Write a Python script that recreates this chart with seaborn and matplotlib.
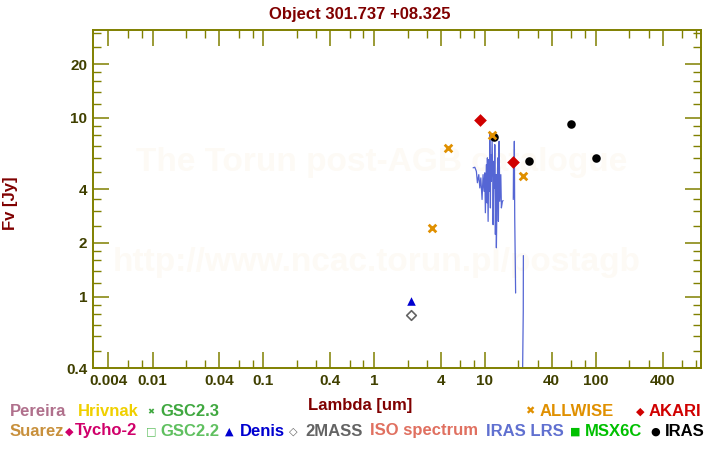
import numpy as np
import pandas as pd
import matplotlib
matplotlib.use("Agg")
import matplotlib.pyplot as plt
import seaborn as sns

# ---------------- data ----------------
title = "Object 301.737 +08.325"

xtick_major = [0.004, 0.01, 0.04, 0.1, 0.4, 1, 4, 10, 40, 100, 400]
xtick_labels = ["0.004", "0.01", "0.04", "0.1", "0.4", "1", "4", "10", "40", "100", "400"]
xtick_minor = [0.006, 0.008, 0.02, 0.03, 0.06, 0.08, 0.2, 0.3, 0.6, 0.8,
               2, 3, 6, 8, 20, 30, 60, 80, 200, 300, 600, 800]
ytick_major = [0.4, 1, 2, 4, 10, 20]
ytick_labels = ["0.4", "1", "2", "4", "10", "20"]
ytick_minor = [0.5, 0.6, 0.7, 0.8, 0.9, 1.2, 1.4, 1.6, 1.8, 2.5, 3, 3.5,
               5, 6, 7, 8, 9, 12, 14, 16, 18, 25, 30]

denis_wave = [2.15]
denis_flux = [0.95]
twomass_wave = [2.16]
twomass_flux = [0.79]
allwise_wave = [3.35, 4.6, 11.6, 22.1]
allwise_flux = [2.43, 6.8, 8.04, 4.74]
akari_wave = [9.0, 18.0]
akari_flux = [9.74, 5.70]
iras_wave = [12, 25, 60, 100]
iras_flux = [7.83, 5.75, 9.26, 5.98]

lrs1_wave = [7.81, 8.09, 8.36, 8.54, 8.79, 8.98, 9.17, 9.41, 9.61, 9.81,
             9.96, 10.08, 10.29, 10.44, 10.51, 10.67, 10.82, 10.96, 11.05, 11.19,
             11.28, 11.43, 11.59, 11.76, 11.84, 12.01, 12.16, 12.26, 12.41, 12.59,
             12.67, 12.86, 13.05, 13.21, 13.41, 13.60, 13.89, 14.06, 14.36, 14.57]
lrs1_flux = [5.26, 5.30, 5.03, 4.34, 4.82, 4.06, 4.62, 3.50, 4.82, 3.89,
             4.93, 2.95, 5.48, 3.35, 5.98, 2.64, 5.85, 3.89, 8.25, 3.14,
             6.24, 4.42, 7.56, 4.62, 2.53, 5.72, 4.06, 7.09, 2.23, 4.82,
             1.88, 3.89, 5.98, 2.64, 7.40, 3.42, 4.82, 3.14, 3.42, 3.45]
lrs2_wave = [18.0, 18.1, 18.25, 18.4, 18.55, 18.9]
lrs2_flux = [3.5, 5.7, 3.6, 7.4, 2.76, 1.05]
lrs3_wave = [21.75, 22.15, 22.2]
lrs3_flux = [0.3, 0.83, 1.70]

legend_row1 = [("Pereira", "#b0708c"), ("Hrivnak", "#f0d000"), ("GSC2.3", "#40a840"),
               ("ALLWISE", "#e09000"), ("AKARI", "#d00000")]
legend_row2 = [("Suarez", "#c8903c"), ("Tycho-2", "#d0006a"), ("GSC2.2", "#60c060"),
               ("Denis", "#0000d0"), ("2MASS", "#646464"), ("ISO spectrum", "#e07060"),
               ("IRAS LRS", "#6070d0"), ("MSX6C", "#00c000"), ("IRAS", "#000000")]

# ---------------- style ----------------
sns.set_theme(style="white")
plt.rcParams["font.family"] = ["Liberation Sans", "DejaVu Sans"]

OLIVE = "#808000"
TICKTXT = "#404000"
DARKRED = "#800000"

fig = plt.figure(figsize=(7.2, 4.5), dpi=100)
ax = fig.add_axes([93 / 720, 1 - 368 / 450, 608 / 720, 338 / 450])

# watermark (behind data)
ax.text(382 / 720, 1 - 163 / 450, "The Torun post-AGB catalogue", fontsize=24,
        fontweight="bold", color="#fdfaf5", ha="center", va="center", zorder=0,
        transform=fig.transFigure)
ax.text(377 / 720, 1 - 263 / 450, "http://www.ncac.torun.pl/postagb", fontsize=24,
        fontweight="bold", color="#fdfaf5", ha="center", va="center", zorder=0,
        transform=fig.transFigure)

# spectrum
lrs = pd.concat([
    pd.DataFrame({"wave": lrs1_wave, "flux": lrs1_flux, "seg": 1}),
    pd.DataFrame({"wave": lrs2_wave, "flux": lrs2_flux, "seg": 2}),
    pd.DataFrame({"wave": lrs3_wave, "flux": lrs3_flux, "seg": 3}),
])
sns.lineplot(data=lrs, x="wave", y="flux", units="seg", estimator=None, sort=False,
             color="#5566d4", lw=0.9, ax=ax, legend=False, zorder=2)

# photometry
sns.scatterplot(x=iras_wave, y=iras_flux, marker="o", color="black", s=38,
                linewidth=0, ax=ax, zorder=3)
sns.scatterplot(x=akari_wave, y=akari_flux, marker="D", color="#d00000", s=42,
                linewidth=0, ax=ax, zorder=3)
sns.scatterplot(x=allwise_wave, y=allwise_flux, marker="x", color="#e09000", s=30,
                linewidth=2.0, ax=ax, zorder=4)
sns.scatterplot(x=denis_wave, y=denis_flux, marker="^", color="#0000d0", s=38,
                linewidth=0, ax=ax, zorder=3)
sns.scatterplot(x=twomass_wave, y=twomass_flux, marker="D", facecolor="white",
                edgecolor="#646464", s=24, linewidth=1.2, ax=ax, zorder=3)

ax.set_xscale("log")
ax.set_yscale("log")
ax.set_xlim(0.0029, 890)
ax.set_ylim(0.4, 31)

ax.set_xticks(xtick_major, xtick_labels, fontsize=11, fontweight="bold", color=TICKTXT)
ax.set_xticks(xtick_minor, minor=True)
ax.set_xticklabels([], minor=True)
ax.set_yticks(ytick_major, ytick_labels, fontsize=11, fontweight="bold", color=TICKTXT)
ax.set_yticks(ytick_minor, minor=True)
ax.set_yticklabels([], minor=True)

ax.tick_params(which="both", direction="in", top=True, right=True, bottom=True,
               left=True, color=OLIVE)
ax.tick_params(which="major", length=11.5, width=1.1, pad=4)
ax.tick_params(which="minor", length=6, width=1.0)
for sp in ax.spines.values():
    sp.set_color(OLIVE)
    sp.set_linewidth(1.4)
ax.set_xlabel("")
ax.set_ylabel("")

fig.text(0.5, 1 - 19 / 450, title, fontsize=12, fontweight="bold", color=DARKRED,
         ha="center", va="baseline")
fig.text(0.5, 1 - 410 / 450, "Lambda [um]", fontsize=12, fontweight="bold", color=DARKRED,
         ha="center", va="baseline")
fig.text(10 / 720, 1 - 203 / 450, "Fv [Jy]", fontsize=12, fontweight="bold", color=DARKRED,
         ha="center", va="center", rotation=90)

# legend (manual, two rows)
b1 = 1 - 415.5 / 450
b2 = 1 - 435.5 / 450
lab = dict(fontsize=12, fontweight="bold", va="baseline", ha="left")
sym = dict(fontsize=8, va="baseline", ha="center", family=["DejaVu Sans"])

row1_x = [10, 78, 160, 540, 649]
for (name, col), x in zip(legend_row1, row1_x):
    fig.text(x / 720, b1, name, color=col, **lab)
fig.text(151 / 720, b1 + 0.003, "\u2716", color="#40a840", fontsize=6, va="baseline",
         ha="center", family=["DejaVu Sans"])
fig.text(530 / 720, b1 + 0.003, "\u2716", color="#e09000", fontsize=8, va="baseline",
         ha="center", family=["DejaVu Sans"])
fig.text(640 / 720, b1 + 0.003, "\u25c6", color="#d00000", **sym)

row2_x = [10, 75, 160, 240, 305, 370, 486, 585, 665]
for (name, col), x in zip(legend_row2, row2_x):
    fig.text(x / 720, b2, name, color=col, **lab)
fig.text(69 / 720, b2 + 0.003, "\u25c6", color="#d0006a", **sym)
fig.text(151 / 720, b2 + 0.003, "\u25a1", color="#60c060", **sym)
fig.text(229 / 720, b2 + 0.003, "\u25b2", color="#0000d0", **sym)
fig.text(293 / 720, b2 + 0.003, "\u25c7", color="#646464", **sym)
fig.text(575 / 720, b2 + 0.003, "\u25a0", color="#00c000", **sym)
fig.text(655 / 720, b2 + 0.003, "\u25cf", color="#000000", **sym)

fig.savefig("out.png", dpi=100)
